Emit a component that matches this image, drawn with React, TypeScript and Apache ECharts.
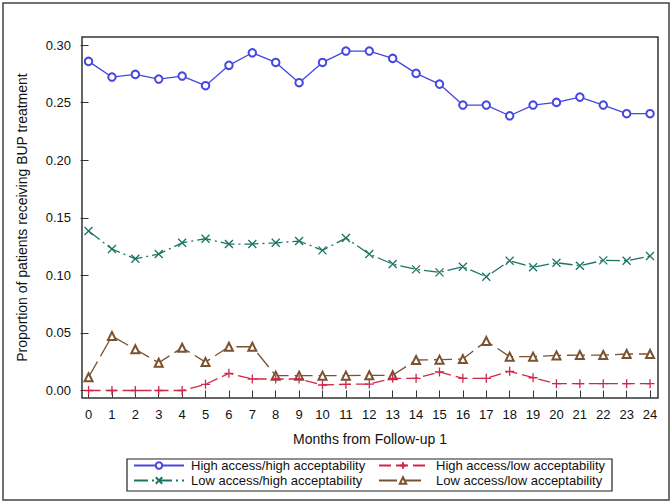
import React, { useEffect, useRef } from "react";
import * as echarts from "echarts";

const months = [0, 1, 2, 3, 4, 5, 6, 7, 8, 9, 10, 11, 12, 13, 14, 15, 16, 17, 18, 19, 20, 21, 22, 23, 24];
const yTicks = [0, 0.05, 0.1, 0.15, 0.2, 0.25, 0.3];

const highHigh = [0.2858, 0.2722, 0.2745, 0.2705, 0.2731, 0.2647, 0.2824, 0.2933, 0.2849, 0.2673, 0.2849, 0.2948, 0.2948, 0.2884, 0.2754, 0.2661, 0.2479, 0.2479, 0.2386, 0.2479, 0.2502, 0.2548, 0.2479, 0.2404, 0.2404];
const highLow = [0, 0, 0, 0, 0, 0.0054, 0.0149, 0.01, 0.01, 0.01, 0.0048, 0.0054, 0.0056, 0.0106, 0.0106, 0.0161, 0.0106, 0.0106, 0.0167, 0.0111, 0.0059, 0.0059, 0.0059, 0.0059, 0.0059];
const lowHigh = [0.1385, 0.1229, 0.1144, 0.1185, 0.1283, 0.1318, 0.1272, 0.1272, 0.1283, 0.1298, 0.1217, 0.1324, 0.1185, 0.1098, 0.1052, 0.1026, 0.1075, 0.0988, 0.1127, 0.107, 0.111, 0.1084, 0.113, 0.1127, 0.1168];
const lowLow = [0.0115, 0.0473, 0.0358, 0.0241, 0.0372, 0.0247, 0.038, 0.038, 0.0129, 0.0129, 0.0129, 0.0129, 0.0132, 0.0132, 0.0265, 0.0268, 0.0273, 0.043, 0.0294, 0.0294, 0.0305, 0.0308, 0.0308, 0.0317, 0.0317];

const names = [
  "High access/high acceptability",
  "High access/low acceptability",
  "Low access/high acceptability",
  "Low access/low acceptability",
];

const BLUE = "#4646E0";
const RED = "#D02848";
const TEAL = "#1A7464";
const BROWN = "#7A5230";
const FONT = "Liberation Sans";

export default function App() {
  const ref = useRef<HTMLDivElement>(null);
  useEffect(() => {
    if (!ref.current) return;
    const chart = echarts.init(ref.current, null, { renderer: "svg" });
    const pair = (arr: number[]) => months.map((m, i) => [m, arr[i]]);
    const option: any = {
      animation: false,
      backgroundColor: "#fff",
      textStyle: { fontFamily: FONT },
      grid: {
        left: 82,
        top: 37,
        width: 576,
        height: 361,
        show: true,
        borderColor: "#333",
        borderWidth: 1.5,
        backgroundColor: "transparent",
      },
      xAxis: {
        type: "value",
        min: -0.28,
        max: 24.34,
        name: "Months from Follow-up 1",
        nameLocation: "middle",
        nameGap: 34,
        nameTextStyle: { fontSize: 14, color: "#111", fontFamily: FONT },
        axisLine: { show: false },
        splitLine: { show: false },
        axisTick: { show: true, length: 7, customValues: months, lineStyle: { color: "#333", width: 1 } },
        axisLabel: { customValues: months, fontSize: 13, color: "#111", margin: 10, fontFamily: FONT },
      },
      yAxis: {
        type: "value",
        min: -0.0065,
        max: 0.307,
        name: "Proportion of patients receiving BUP treatment",
        nameLocation: "middle",
        nameGap: 53,
        nameTextStyle: { fontSize: 14, color: "#111", fontFamily: FONT },
        axisLine: { show: false },
        splitLine: { show: false },
        axisTick: { show: true, length: 8, customValues: yTicks, lineStyle: { color: "#333", width: 1 } },
        axisLabel: {
          customValues: yTicks,
          fontSize: 13,
          color: "#111",
          margin: 11,
          fontFamily: FONT,
          formatter: (v: number) => v.toFixed(2),
        },
      },
      legend: [
        {
          orient: "vertical",
          left: 133,
          top: 459,
          padding: 0,
          itemWidth: 50,
          itemHeight: 8,
          itemGap: 2,
          data: [names[0], names[2]],
          textStyle: { fontSize: 13, color: "#111", fontFamily: FONT, padding: [0, 0, 0, 2] },
        },
        {
          orient: "vertical",
          left: 378,
          top: 459,
          padding: 0,
          itemWidth: 48,
          itemHeight: 8,
          itemGap: 2,
          data: [names[1], names[3]],
          textStyle: { fontSize: 13, color: "#111", fontFamily: FONT, padding: [0, 0, 0, 4] },
        },
      ],
      graphic: [
        {
          type: "rect",
          shape: { x: 3, y: 3, width: 666, height: 497 },
          style: { fill: "none", stroke: "#444", lineWidth: 1.5 },
          silent: true,
        },
        {
          type: "rect",
          shape: { x: 127, y: 459, width: 485, height: 32 },
          style: { fill: "none", stroke: "#222", lineWidth: 1.2 },
          silent: true,
        },
      ],
      series: [
        {
          name: names[0],
          type: "line",
          data: pair(highHigh),
          symbol: "emptyCircle",
          symbolSize: 7.5,
          color: BLUE,
          lineStyle: { color: BLUE, width: 1.3, type: "solid" },
          itemStyle: { color: BLUE, borderWidth: 1.3 },
          z: 4,
        },
        {
          name: names[1],
          type: "line",
          data: pair(highLow),
          symbol: "path://M5,0L5,10M0,5L10,5",
          symbolSize: 9,
          color: RED,
          lineStyle: { color: RED, width: 1.3, type: [12, 5] },
          itemStyle: { color: "none", borderColor: RED, borderWidth: 1.3 },
          z: 3,
        },
        {
          name: names[2],
          type: "line",
          data: pair(lowHigh),
          symbol: "path://M0,0L10,10M10,0L0,10",
          symbolSize: 8,
          color: TEAL,
          lineStyle: { color: TEAL, width: 1.3, type: [14, 4, 2, 4] },
          itemStyle: { color: "none", borderColor: TEAL, borderWidth: 1.3 },
          z: 3,
        },
        {
          name: names[3],
          type: "line",
          data: pair(lowLow),
          symbol: "emptyTriangle",
          symbolSize: 8,
          color: BROWN,
          lineStyle: { color: BROWN, width: 1.3, type: [18, 6] },
          itemStyle: { color: BROWN, borderWidth: 1.3 },
          z: 2,
        },
      ],
    };
    chart.setOption(option);
    return () => chart.dispose();
  }, []);
  return (
    <div
      ref={ref}
      style={{ position: "fixed", left: 0, top: 0, width: 672, height: 504, background: "#fff" }}
    />
  );
}
